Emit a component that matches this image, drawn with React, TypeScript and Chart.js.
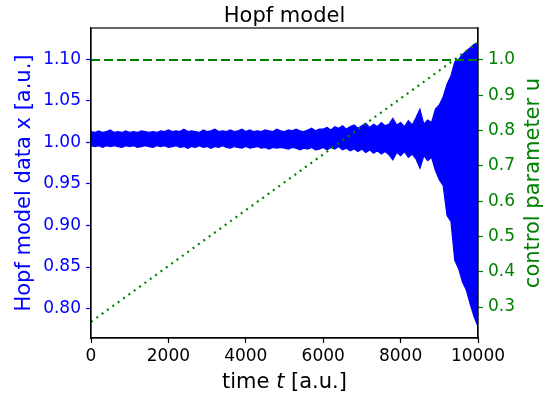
import { useEffect, useRef } from "react";
import { Chart, registerables } from "chart.js";

Chart.register(...registerables);

const FONT = "'DejaVu Sans', sans-serif";
const BLUE = "#0000ff";
const GREEN = "#008000";

// sample times of the read-off envelope of the Hopf model signal
const T = [
  0, 100, 200, 300, 400, 500, 600, 700, 800, 900,
  1000, 1100, 1200, 1300, 1400, 1500, 1600, 1700, 1800, 1900,
  2000, 2100, 2200, 2300, 2400, 2500, 2600, 2700, 2800, 2900,
  3000, 3100, 3200, 3300, 3400, 3500, 3600, 3700, 3800, 3900,
  4000, 4100, 4200, 4300, 4400, 4500, 4600, 4700, 4800, 4900,
  5000, 5100, 5200, 5300, 5400, 5500, 5600, 5700, 5800, 5900,
  6000, 6100, 6200, 6300, 6400, 6500, 6600, 6700, 6800, 6900,
  7000, 7100, 7200, 7300, 7400, 7500, 7600, 7700, 7800, 7900,
  8000, 8100, 8200, 8300, 8400, 8500, 8600, 8700, 8800, 8900,
  9000, 9100, 9200, 9300, 9400, 9500, 9600, 9700, 9800, 9900,
  10000,
];

// upper envelope of x(t)
const X_UPPER = [
  1.013, 1.012, 1.014, 1.012, 1.013, 1.015, 1.012, 1.013, 1.012, 1.014,
  1.012, 1.013, 1.012, 1.014, 1.013, 1.012, 1.013, 1.012, 1.014, 1.013,
  1.015, 1.013, 1.014, 1.013, 1.016, 1.013, 1.014, 1.013, 1.012, 1.015,
  1.013, 1.014, 1.016, 1.013, 1.014, 1.013, 1.015, 1.013, 1.014, 1.016,
  1.013, 1.015, 1.013, 1.014, 1.013, 1.015, 1.014, 1.013, 1.016, 1.014,
  1.013, 1.015, 1.014, 1.016, 1.014, 1.013, 1.015, 1.017, 1.014, 1.016,
  1.016, 1.018, 1.015, 1.019, 1.017, 1.020, 1.016, 1.019, 1.021, 1.017,
  1.020, 1.023, 1.018, 1.022, 1.019, 1.024, 1.020, 1.022, 1.029, 1.021,
  1.024, 1.019, 1.026, 1.021, 1.030, 1.040, 1.022, 1.027, 1.024, 1.040,
  1.045, 1.055, 1.070, 1.080, 1.097, 1.100, 1.106, 1.110, 1.114, 1.118,
  1.120,
];

// lower envelope of x(t)
const X_LOWER = [
  0.996, 0.995, 0.996, 0.994, 0.996, 0.995, 0.996, 0.995, 0.994, 0.996,
  0.995, 0.996, 0.994, 0.995, 0.996, 0.995, 0.994, 0.996, 0.995, 0.996,
  0.994, 0.995, 0.996, 0.994, 0.995, 0.993, 0.995, 0.994, 0.996, 0.994,
  0.995, 0.993, 0.995, 0.994, 0.996, 0.994, 0.993, 0.995, 0.994, 0.993,
  0.995, 0.993, 0.994, 0.995, 0.993, 0.994, 0.992, 0.994, 0.993, 0.994,
  0.993, 0.992, 0.994, 0.993, 0.991, 0.993, 0.992, 0.994, 0.991, 0.992,
  0.994, 0.991, 0.994, 0.992, 0.995, 0.991, 0.993, 0.990, 0.992, 0.989,
  0.992, 0.988, 0.991, 0.987, 0.990, 0.986, 0.989, 0.985, 0.979, 0.988,
  0.984, 0.989, 0.982, 0.986, 0.980, 0.969, 0.984, 0.978, 0.982, 0.966,
  0.955, 0.948, 0.912, 0.905, 0.858, 0.848, 0.832, 0.822, 0.805, 0.790,
  0.778,
];

// control parameter u (dotted ramp) and critical value (dashed)
const U_T = [0, 10000];
const U_VALUES = [0.258, 1.049];
const U_CRIT = [1.0, 1.0];

const X_TICKS = [0, 2000, 4000, 6000, 8000, 10000];
const LEFT_TICKS = [0.8, 0.85, 0.9, 0.95, 1.0, 1.05, 1.1];
const RIGHT_TICKS = [0.3, 0.4, 0.5, 0.6, 0.7, 0.8, 0.9, 1.0];

const TITLE = "Hopf model";
const LEFT_LABEL = "Hopf model data x [a.u.]";
const RIGHT_LABEL = "control parameter u";

const textPlugin = {
  id: "textPlugin",
  afterDraw(chart: any) {
    const ctx = chart.ctx as CanvasRenderingContext2D;
    const a = chart.chartArea;
    const cx = (a.left + a.right) / 2;
    const cy = (a.top + a.bottom) / 2;
    ctx.save();
    // frame
    ctx.strokeStyle = "#000";
    ctx.lineWidth = 1.2;
    ctx.strokeRect(a.left, a.top, a.right - a.left, a.bottom - a.top);

    ctx.font = `21px ${FONT}`;
    ctx.fillStyle = "#000";
    ctx.textAlign = "center";
    ctx.textBaseline = "alphabetic";
    ctx.fillText(TITLE, cx, 21.7);

    // x label with italic t
    const p1 = "time ";
    const p2 = "t";
    const p3 = " [a.u.]";
    ctx.font = `21px ${FONT}`;
    const w1 = ctx.measureText(p1).width;
    const w3 = ctx.measureText(p3).width;
    ctx.font = `italic 21px ${FONT}`;
    const w2 = ctx.measureText(p2).width;
    let x0 = cx - (w1 + w2 + w3) / 2;
    ctx.textAlign = "left";
    ctx.font = `21px ${FONT}`;
    ctx.fillText(p1, x0, 387.5);
    ctx.font = `italic 21px ${FONT}`;
    ctx.fillText(p2, x0 + w1, 387.5);
    ctx.font = `21px ${FONT}`;
    ctx.fillText(p3, x0 + w1 + w2, 387.5);

    // y labels
    ctx.textAlign = "center";
    ctx.textBaseline = "middle";
    ctx.save();
    ctx.translate(25, cy);
    ctx.rotate(-Math.PI / 2);
    ctx.fillStyle = BLUE;
    ctx.fillText(LEFT_LABEL, 0, 0);
    ctx.restore();
    ctx.save();
    ctx.translate(534, cy);
    ctx.rotate(-Math.PI / 2);
    ctx.fillStyle = GREEN;
    ctx.fillText(RIGHT_LABEL, 0, 0);
    ctx.restore();
    ctx.restore();
  },
};

export default function App() {
  const ref = useRef<HTMLCanvasElement>(null);
  useEffect(() => {
    const canvas = ref.current!;
    const upper = T.map((t, i) => ({ x: t, y: X_UPPER[i] }));
    const lower = T.map((t, i) => ({ x: t, y: X_LOWER[i] }));
    const chart = new Chart(canvas, {
      type: "line",
      data: {
        datasets: [
          {
            label: "u critical",
            data: U_T.map((t, i) => ({ x: t, y: U_CRIT[i] })),
            yAxisID: "y1",
            borderColor: GREEN,
            borderWidth: 2,
            borderDash: [9, 4],
            pointRadius: 0,
            fill: false,
          },
          {
            label: "u",
            data: U_T.map((t, i) => ({ x: t, y: U_VALUES[i] })),
            yAxisID: "y1",
            borderColor: GREEN,
            borderWidth: 2.2,
            borderDash: [2, 4.6],
            pointRadius: 0,
            fill: false,
          },
          {
            label: "x upper",
            data: upper,
            yAxisID: "y",
            borderColor: BLUE,
            borderWidth: 1.2,
            pointRadius: 0,
            fill: false,
          },
          {
            label: "x lower",
            data: lower,
            yAxisID: "y",
            borderColor: BLUE,
            backgroundColor: BLUE,
            borderWidth: 1.2,
            pointRadius: 0,
            fill: "-1",
          },
        ],
      },
      options: {
        responsive: false,
        animation: false,
        devicePixelRatio: 1,
        layout: { padding: { top: 28, left: 0, right: 0, bottom: 0 } },
        elements: { line: { tension: 0 }, point: { radius: 0 } },
        plugins: {
          legend: { display: false },
          title: { display: false },
          tooltip: { enabled: false },
        },
        scales: {
          x: {
            type: "linear",
            min: 0,
            max: 10000,
            afterBuildTicks: (s: any) => {
              s.ticks = X_TICKS.map((v) => ({ value: v }));
            },
            afterFit: (s: any) => {
              s.height = 59;
            },
            ticks: {
              color: "#000",
              font: { family: FONT, size: 17 },
              padding: 3,
              maxRotation: 0,
              autoSkip: false,
              callback: (v: any) => String(v),
            },
            grid: {
              drawOnChartArea: false,
              tickLength: 5,
              tickColor: "#000",
              tickWidth: 1.2,
            },
            border: { color: "#000", width: 1.2 },
          },
          y: {
            type: "linear",
            position: "left",
            min: 0.7646,
            max: 1.1377,
            afterBuildTicks: (s: any) => {
              s.ticks = LEFT_TICKS.map((v) => ({ value: v }));
            },
            afterFit: (s: any) => {
              s.width = 91;
            },
            ticks: {
              color: BLUE,
              font: { family: FONT, size: 17 },
              padding: 5,
              callback: (v: any) => Number(v).toFixed(2),
            },
            grid: {
              drawOnChartArea: false,
              tickLength: 5,
              tickColor: BLUE,
              tickWidth: 1.2,
            },
            border: { color: "#000", width: 1.2 },
          },
          y1: {
            type: "linear",
            position: "right",
            min: 0.2122,
            max: 1.0906,
            afterBuildTicks: (s: any) => {
              s.ticks = RIGHT_TICKS.map((v) => ({ value: v }));
            },
            afterFit: (s: any) => {
              s.width = 74;
            },
            ticks: {
              color: GREEN,
              font: { family: FONT, size: 17 },
              padding: 5,
              callback: (v: any) => Number(v).toFixed(1),
            },
            grid: {
              drawOnChartArea: false,
              tickLength: 5,
              tickColor: GREEN,
              tickWidth: 1.2,
            },
            border: { color: "#000", width: 1.2 },
          },
        },
      } as any,
      plugins: [textPlugin],
    });
    return () => chart.destroy();
  }, []);
  return (
    <div
      style={{
        position: "fixed",
        left: 0,
        top: 0,
        width: 552,
        height: 397,
        background: "#fff",
      }}
    >
      <canvas ref={ref} width={552} height={397} style={{ display: "block" }} />
    </div>
  );
}
